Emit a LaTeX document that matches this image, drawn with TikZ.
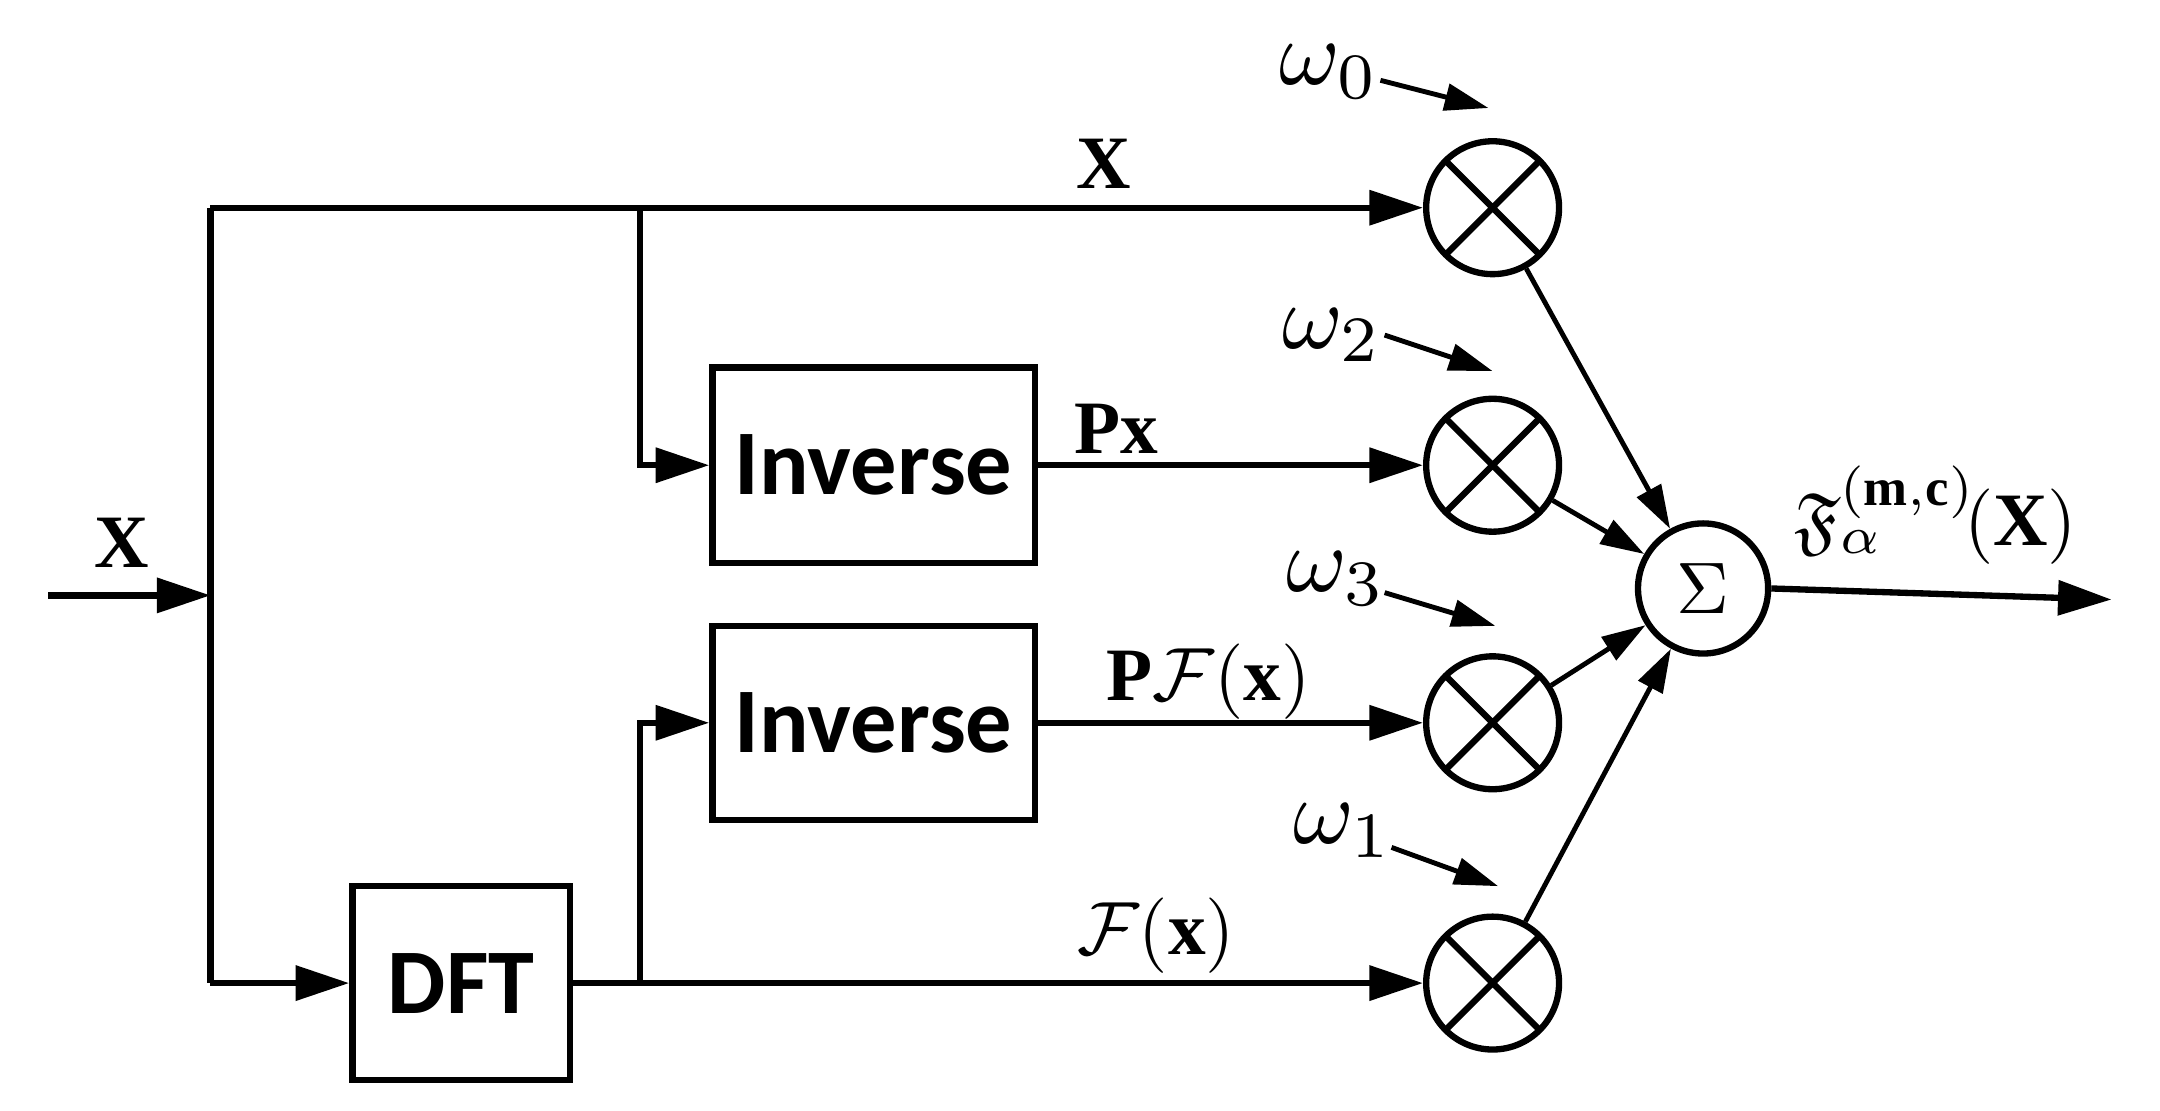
\documentclass[tikz,border=0pt]{standalone}
\usepackage{amssymb}
\usepackage{fontspec}
\setmainfont{Liberation Serif}
\newfontfamily\boxfont{Carlito}
\usetikzlibrary{arrows.meta}
\begin{document}
\begin{tikzpicture}[x=0.02cm,y=-0.02cm,
  wire/.style={line width=2.6pt},
  arr/.style={wire,-{Triangle[length=22pt,width=14pt]}},
  sarr/.style={line width=2pt,-{Triangle[length=18pt,width=11pt]}},
  box/.style={draw,line width=2.6pt,fill=white,font=\boxfont\bfseries\fontsize{38}{40}\selectfont},
  mul/.style={draw,circle,line width=2.6pt,minimum size=1.92cm,inner sep=0pt,
     path picture={\draw[line width=2.6pt] (path picture bounding box.north west)--(path picture bounding box.south east)
     (path picture bounding box.north east)--(path picture bounding box.south west);}},
  lab/.style={scale=3.1,inner sep=1pt},
  om/.style={scale=3.8,inner sep=1pt}]
\useasboundingbox (0,0) rectangle (1560,802);
\node[box,minimum width=4.66cm,minimum height=2.82cm] (inv1) at (631,336) {Inverse};
\node[box,minimum width=4.66cm,minimum height=2.8cm] (inv2) at (631,522) {Inverse};
\node[box,minimum width=3.14cm,minimum height=2.8cm] (dft) at (333,710) {DFT};
\node[mul] (m0) at (1078,150) {};
\node[mul] (m2) at (1078,336) {};
\node[mul] (m3) at (1078,522) {};
\node[mul] (m1) at (1078,710) {};
\node[draw,circle,line width=2.6pt,minimum size=1.88cm,inner sep=0pt] (s) at (1230,425) {\scalebox{3}{$\Sigma$}};
\coordinate (in) at (35,430);
\coordinate (j) at (152,430);
\coordinate (out) at (1525,433);
\draw[arr] (in) -- (j);
\draw[wire] (152,150) -- (152,710);
\draw[arr] (152,150) -- (m0.west);
\draw[arr] (462,150) |- (inv1.west);
\draw[arr] (152,710) -- (dft.west);
\draw[arr] (dft.east) -- (m1.west);
\draw[arr] (462,710) |- (inv2.west);
\draw[arr] (inv1.east) -- (m2.west);
\draw[arr] (inv2.east) -- (m3.west);
\foreach \m in {m0,m2,m3,m1} \draw[sarr] (\m) -- (s);
\draw[arr] (s.east) -- (out);
\node[lab] at (88,392) {$\mathbf{X}$};
\node[lab] at (797,118) {$\mathbf{X}$};
\node[lab] at (806,310) {$\mathbf{Px}$};
\node[lab] at (873,492) {$\mathbf{P}\mathcal{F}(\mathbf{x})$};
\node[lab] at (835,676) {$\mathcal{F}(\mathbf{x})$};
\node[lab] at (1398,372) {$\mathfrak{F}_{\alpha}^{(\mathbf{m,c})}\!(\mathbf{X})$};
\node[om] (w0) at (960,52) {$\omega_0$};
\node[om] (w2) at (962,242) {$\omega_2$};
\node[om] (w3) at (965,418) {$\omega_3$};
\node[om] (w1) at (970,600) {$\omega_1$};
\coordinate (a0) at (1075,78); \coordinate (a2) at (1078,268);
\coordinate (a3) at (1080,452); \coordinate (a1) at (1082,640);
\draw[sarr] (997,58) -- (a0);
\draw[sarr] (1000,242) -- (a2);
\draw[sarr] (1000,428) -- (a3);
\draw[sarr] (1005,612) -- (a1);
\end{tikzpicture}
\end{document}
